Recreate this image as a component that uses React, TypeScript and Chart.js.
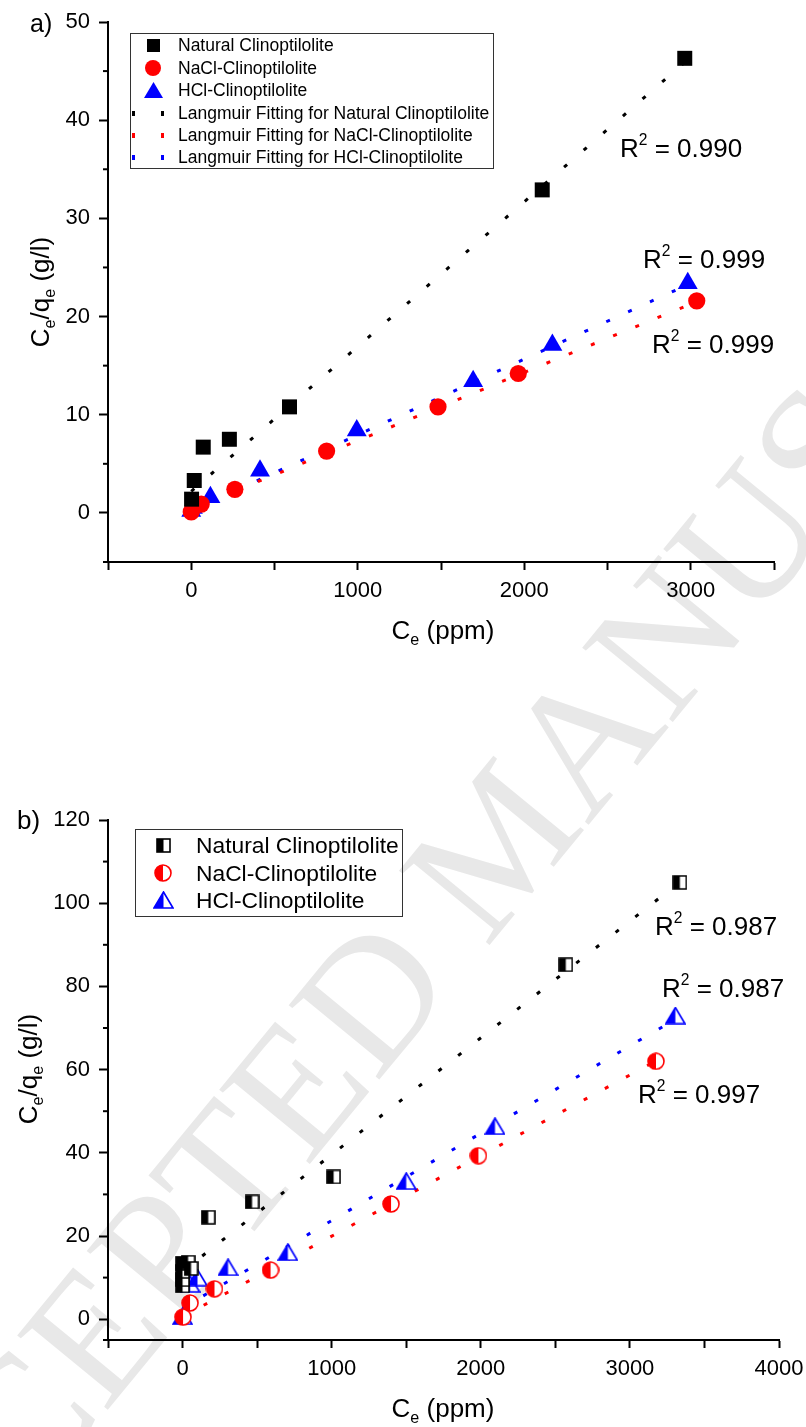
import { useEffect, useRef } from "react";
import { Chart, registerables } from "chart.js";

Chart.register(...registerables);

const FONT = '"Liberation Sans", Arial, Helvetica, sans-serif';

// ---------- panel a : Langmuir linear plots ----------
const naturalA_ce = [2, 18, 72, 229, 590, 2108, 2964];
const naturalA_ratio = [1.4, 3.3, 6.7, 7.5, 10.8, 32.9, 46.3];
const naclA_ce = [0, 10, 60, 262, 813, 1482, 1964, 3036];
const naclA_ratio = [0.1, 0.5, 0.9, 2.4, 6.3, 10.8, 14.2, 21.6];
const hclA_ce = [0, 10, 115, 413, 994, 1693, 2169, 2982];
const hclA_ratio = [0.2, 0.5, 1.6, 4.3, 8.4, 13.4, 17.1, 23.4];

// fitted lines, end points
const naturalA_fitCe = [0, 2964];
const naturalA_fit = [2.2, 45.9];
const naclA_fitCe = [0, 2990];
const naclA_fit = [0.4, 21.2];
const hclA_fitCe = [0, 2950];
const hclA_fit = [0.23, 23.0];

const xTicksA = [-500, 0, 500, 1000, 1500, 2000, 2500, 3000, 3500];
const xLabelsA = [0, 1000, 2000, 3000];
const yTicksA = [-5, 0, 5, 10, 15, 20, 25, 30, 35, 40, 45, 50];
const yLabelsA = [0, 10, 20, 30, 40, 50];

const legendA = [
  "Natural Clinoptilolite",
  "NaCl-Clinoptilolite",
  "HCl-Clinoptilolite",
  "Langmuir Fitting for Natural Clinoptilolite",
  "Langmuir Fitting for NaCl-Clinoptilolite",
  "Langmuir Fitting for HCl-Clinoptilolite",
];
const r2A = ["0.990", "0.999", "0.999"];

// ---------- panel b ----------
const naturalB_ce = [0, 0, 0, 0, 37, 57, 172, 466, 1013, 2570, 3335];
const naturalB_ratio = [8, 9.5, 11.5, 13.5, 13.7, 12.2, 24.5, 28.2, 34.2, 85.2, 105];
const naclB_ce = [3, 50, 214, 590, 1398, 1984, 3175];
const naclB_ratio = [0.5, 3.9, 7.3, 11.8, 27.7, 39.3, 62];
const hclB_ce = [0, 50, 100, 305, 706, 1500, 2095, 3305];
const hclB_ratio = [0.7, 8.5, 10, 12.5, 16.1, 33.2, 46.4, 73];

const naturalB_fitCe = [0, 3339];
const naturalB_fit = [11.5, 105.2];
const naclB_fitCe = [0, 3171];
const naclB_fit = [0.6, 62.0];
const hclB_fitCe = [0, 3305];
const hclB_fit = [2.7, 72.1];

const xTicksB = [-500, 0, 500, 1000, 1500, 2000, 2500, 3000, 3500, 4000];
const xLabelsB = [0, 1000, 2000, 3000, 4000];
const yTicksB = [-5, 0, 10, 20, 30, 40, 50, 60, 70, 80, 90, 100, 110, 120];
const yLabelsB = [0, 20, 40, 60, 80, 100, 120];

const legendB = ["Natural Clinoptilolite", "NaCl-Clinoptilolite", "HCl-Clinoptilolite"];
const r2B = ["0.987", "0.987", "0.997"];

const pts = (xs: number[], ys: number[]) => xs.map((x, i) => ({ x, y: ys[i] }));

// half filled marker (left half coloured) used in panel b
function halfMarker(shape: "square" | "circle" | "triangle", color: string, w: number, h: number) {
  const c = document.createElement("canvas");
  c.width = w;
  c.height = h;
  const ctx = c.getContext("2d")!;
  const path = () => {
    ctx.beginPath();
    if (shape === "square") ctx.rect(1, 1, w - 2, h - 2);
    else if (shape === "circle") ctx.arc(w / 2, h / 2, w / 2 - 1, 0, Math.PI * 2);
    else {
      ctx.moveTo(w / 2, 1);
      ctx.lineTo(w - 1, h - 1);
      ctx.lineTo(1, h - 1);
      ctx.closePath();
    }
  };
  path();
  ctx.fillStyle = "#fff";
  ctx.fill();
  ctx.save();
  ctx.beginPath();
  ctx.rect(0, 0, w / 2, h);
  ctx.clip();
  path();
  ctx.fillStyle = color;
  ctx.fill();
  ctx.restore();
  path();
  ctx.strokeStyle = color;
  ctx.lineWidth = 1.6;
  ctx.stroke();
  return c;
}

// shorter minor ticks on the y axis
const minorTicks = {
  id: "minorTicks",
  afterDraw(chart: any, _a: any, opts: any) {
    const ctx = chart.ctx;
    const ys = chart.scales.y;
    ctx.save();
    ctx.strokeStyle = "#000";
    ctx.lineWidth = 2;
    ys.ticks.forEach((t: any) => {
      if (opts.labels.includes(t.value)) return;
      const p = ys.getPixelForValue(t.value);
      ctx.beginPath();
      ctx.moveTo(ys.right, p);
      ctx.lineTo(ys.right - 5, p);
      ctx.stroke();
    });
    ctx.restore();
  },
};

type PanelProps = {
  top: number;
  height: number;
  padTop: number;
  padRight: number;
  axisH: number;
  xTicks: number[];
  xLabels: number[];
  yTicks: number[];
  yLabels: number[];
  build: () => any[];
};

const PanelChart = (p: PanelProps) => {
  const canvasRef = useRef<HTMLCanvasElement | null>(null);
  const chartRef = useRef<Chart | null>(null);

  useEffect(() => {
    if (!canvasRef.current) return;
    if (chartRef.current) chartRef.current.destroy();

    const xMin = p.xTicks[0];
    const xMax = p.xTicks[p.xTicks.length - 1];
    const yMin = p.yTicks[0];
    const yMax = p.yTicks[p.yTicks.length - 1];

    chartRef.current = new Chart(canvasRef.current, {
      type: "scatter",
      data: { datasets: p.build() },
      plugins: [minorTicks],
      options: {
        responsive: true,
        maintainAspectRatio: false,
        animation: false,
        events: [],
        layout: { padding: { top: p.padTop, right: p.padRight, left: 0, bottom: 0 } },
        plugins: {
          legend: { display: false },
          tooltip: { enabled: false },
          minorTicks: { labels: p.yLabels },
        } as any,
        scales: {
          x: {
            type: "linear",
            min: xMin,
            max: xMax,
            afterBuildTicks: (s: any) => {
              s.ticks = p.xTicks.map((v) => ({ value: v }));
            },
            afterFit: (s: any) => {
              s.height = p.axisH;
              s.paddingLeft = 0;
              s.paddingRight = 0;
            },
            ticks: {
              autoSkip: false,
              maxRotation: 0,
              padding: 8,
              color: "#000",
              font: { family: FONT, size: 22 },
              callback: (v: any) => (p.xLabels.includes(Number(v)) ? String(v) : ""),
            },
            grid: {
              drawOnChartArea: false,
              drawTicks: true,
              tickLength: 8,
              tickWidth: 2,
              tickColor: "#000",
            },
            border: { display: true, color: "#000", width: 2 },
          },
          y: {
            type: "linear",
            min: yMin,
            max: yMax,
            afterBuildTicks: (s: any) => {
              s.ticks = p.yTicks.map((v) => ({ value: v }));
            },
            afterFit: (s: any) => {
              s.width = 108;
              s.paddingTop = 0;
              s.paddingBottom = 0;
            },
            ticks: {
              autoSkip: false,
              padding: 9,
              color: "#000",
              font: { family: FONT, size: 22 },
              callback: (v: any) => (p.yLabels.includes(Number(v)) ? String(v) : ""),
            },
            grid: {
              drawOnChartArea: false,
              drawTicks: true,
              tickLength: 9,
              tickWidth: 2,
              tickColor: (c: any) =>
                c.tick && !p.yLabels.includes(c.tick.value) ? "rgba(0,0,0,0)" : "#000",
            },
            border: { display: true, color: "#000", width: 2 },
          },
        },
      } as any,
    });

    return () => {
      if (chartRef.current) {
        chartRef.current.destroy();
        chartRef.current = null;
      }
    };
  }, []);

  return (
    <div style={{ position: "absolute", left: 0, top: p.top, width: 806, height: p.height }}>
      <canvas ref={canvasRef}></canvas>
    </div>
  );
};

const fitLine = (xs: number[], ys: number[], color: string, dash: number[]) => ({
  data: pts(xs, ys),
  showLine: true,
  pointRadius: 0,
  borderColor: color,
  borderWidth: 3,
  borderDash: dash,
  borderCapStyle: "butt",
  fill: false,
});

const buildA = () => [
  { data: pts(naturalA_ce, naturalA_ratio), pointStyle: "rect", pointRadius: 10.6, backgroundColor: "#000", borderWidth: 0 },
  { data: pts(naclA_ce, naclA_ratio), pointStyle: "circle", pointRadius: 8.6, backgroundColor: "#ff0000", borderWidth: 0 },
  { data: pts(hclA_ce, hclA_ratio), pointStyle: "triangle", pointRadius: 11.5, backgroundColor: "#0000ff", borderWidth: 0 },
  fitLine(naturalA_fitCe, naturalA_fit, "#000", [4, 22]),
  fitLine(naclA_fitCe, naclA_fit, "#ff0000", [4, 20]),
  fitLine(hclA_fitCe, hclA_fit, "#0000ff", [4, 20]),
];

const buildB = () => [
  { data: pts(naturalB_ce, naturalB_ratio), pointStyle: halfMarker("square", "#000", 15, 15), pointRadius: 8 },
  { data: pts(naclB_ce, naclB_ratio), pointStyle: halfMarker("circle", "#ff0000", 18, 18), pointRadius: 9 },
  { data: pts(hclB_ce, hclB_ratio), pointStyle: halfMarker("triangle", "#0000ff", 21, 18), pointRadius: 10 },
  fitLine(naturalB_fitCe, naturalB_fit, "#000", [4, 21]),
  fitLine(naclB_fitCe, naclB_fit, "#ff0000", [4, 20]),
  fitLine(hclB_fitCe, hclB_fit, "#0000ff", [4, 20]),
];

// small svg markers for the html legends
const Marker = ({ shape, color, half, w, h, cx, cy }: any) => {
  const id = `clip-${shape}-${cy}`;
  const outline = (extra: any) =>
    shape === "square" ? (
      <rect x={1} y={1} width={w - 2} height={h - 2} {...extra} />
    ) : shape === "circle" ? (
      <circle cx={w / 2} cy={h / 2} r={w / 2 - 1} {...extra} />
    ) : (
      <polygon points={`${w / 2},1 ${w - 1},${h - 1} 1,${h - 1}`} {...extra} />
    );
  return (
    <svg width={w} height={h} style={{ position: "absolute", left: cx - w / 2, top: cy - h / 2 }}>
      <defs>
        <clipPath id={id}>
          <rect x={0} y={0} width={w / 2} height={h} />
        </clipPath>
      </defs>
      {half ? (
        <>
          {outline({ fill: "#fff" })}
          {outline({ fill: color, clipPath: `url(#${id})` })}
          {outline({ fill: "none", stroke: color, strokeWidth: 1.6 })}
        </>
      ) : (
        outline({ fill: color })
      )}
    </svg>
  );
};

const abs = (left: number, top: number, extra: any = {}) => ({
  position: "absolute" as const,
  left,
  top,
  whiteSpace: "nowrap" as const,
  ...extra,
});

const sub = { fontSize: "0.62em", verticalAlign: "-0.35em", lineHeight: 0 };
const sup = { fontSize: "0.6em", verticalAlign: "0.75em", lineHeight: 0 };

const Ylabel = ({ cx, cy, size }: { cx: number; cy: number; size: number }) => (
  <div
    style={abs(cx, cy, {
      fontSize: size,
      lineHeight: 1,
      transform: "translate(-50%, -50%) rotate(-90deg)",
    })}
  >
    C<span style={sub}>e</span>/q<span style={sub}>e</span> (g/l)
  </div>
);

const Xlabel = ({ cx, cy, size }: { cx: number; cy: number; size: number }) => (
  <div style={abs(cx, cy, { fontSize: size, lineHeight: 1, transform: "translate(-50%, -50%)" })}>
    C<span style={sub}>e</span> (ppm)
  </div>
);

const R2 = ({ left, baseline, value }: { left: number; baseline: number; value: string }) => (
  <div style={abs(left, baseline - 22, { fontSize: 26, lineHeight: "26px" })}>
    R<span style={sup}>2</span> = {value}
  </div>
);

const legendColors = ["#000", "#ff0000", "#0000ff"];
const legendShapes = ["square", "circle", "triangle"];
const markerW = [15, 18, 21];
const markerH = [15, 18, 18];

const App = () => {
  const rowsA = [45, 68, 90, 113, 135, 157];
  const rowsB = [845, 873, 900];
  return (
    <div
      style={{
        position: "absolute",
        left: 0,
        top: 0,
        width: 806,
        height: 1427,
        overflow: "hidden",
        background: "#fff",
        fontFamily: FONT,
        color: "#000",
      }}
    >
      {/* watermark */}
      <div
        style={abs(-245, 1603, {
          fontFamily: '"Liberation Serif", "DejaVu Serif", serif',
          fontSize: 179,
          lineHeight: 1,
          color: "#e8e8e8",
          transformOrigin: "0 0",
          transform: "rotate(-50.6deg)",
        })}
      >
        ACCEPTED MANUSCRIPT
      </div>

      <PanelChart
        top={0}
        height={680}
        padTop={22}
        padRight={32}
        axisH={118}
        xTicks={xTicksA}
        xLabels={xLabelsA}
        yTicks={yTicksA}
        yLabels={yLabelsA}
        build={buildA}
      />
      <PanelChart
        top={760}
        height={667}
        padTop={60}
        padRight={27}
        axisH={87}
        xTicks={xTicksB}
        xLabels={xLabelsB}
        yTicks={yTicksB}
        yLabels={yLabelsB}
        build={buildB}
      />

      {/* panel a texts */}
      <div style={abs(30, 8, { fontSize: 25, lineHeight: "30px" })}>a)</div>
      <Ylabel cx={40} cy={292} size={26} />
      <Xlabel cx={443} cy={630} size={26} />
      <R2 left={620} baseline={157} value={r2A[0]} />
      <R2 left={643} baseline={268} value={r2A[1]} />
      <R2 left={652} baseline={353} value={r2A[2]} />

      <div
        style={abs(130, 33, {
          width: 364,
          height: 136,
          boxSizing: "border-box",
          border: "1.5px solid #333",
        })}
      />
      {legendA.map((t, i) => (
        <div key={t}>
          {i < 3 ? (
            <Marker
              shape={legendShapes[i]}
              color={legendColors[i]}
              half={false}
              w={markerW[i]}
              h={markerH[i]}
              cx={153}
              cy={rowsA[i]}
            />
          ) : (
            <>
              <div style={abs(132, rowsA[i] - 2.5, { width: 3, height: 5, background: legendColors[i - 3] })} />
              <div style={abs(161, rowsA[i] - 2.5, { width: 3, height: 5, background: legendColors[i - 3] })} />
            </>
          )}
          <div style={abs(178, rowsA[i] - 11, { fontSize: 17.5, lineHeight: "22px" })}>{t}</div>
        </div>
      ))}

      {/* panel b texts */}
      <div style={abs(17, 805, { fontSize: 26, lineHeight: "30px" })}>b)</div>
      <Ylabel cx={28} cy={1069} size={26} />
      <Xlabel cx={443} cy={1408} size={26} />
      <R2 left={655} baseline={935} value={r2B[0]} />
      <R2 left={662} baseline={997} value={r2B[1]} />
      <R2 left={638} baseline={1103} value={r2B[2]} />

      <div
        style={abs(135, 829, {
          width: 268,
          height: 88,
          boxSizing: "border-box",
          border: "1.5px solid #333",
        })}
      />
      {legendB.map((t, i) => (
        <div key={t}>
          <Marker
            shape={legendShapes[i]}
            color={legendColors[i]}
            half={true}
            w={markerW[i]}
            h={markerH[i]}
            cx={163}
            cy={rowsB[i]}
          />
          <div style={abs(196, rowsB[i] - 14, { fontSize: 22.8, lineHeight: "28px" })}>{t}</div>
        </div>
      ))}
    </div>
  );
};

export default App;
